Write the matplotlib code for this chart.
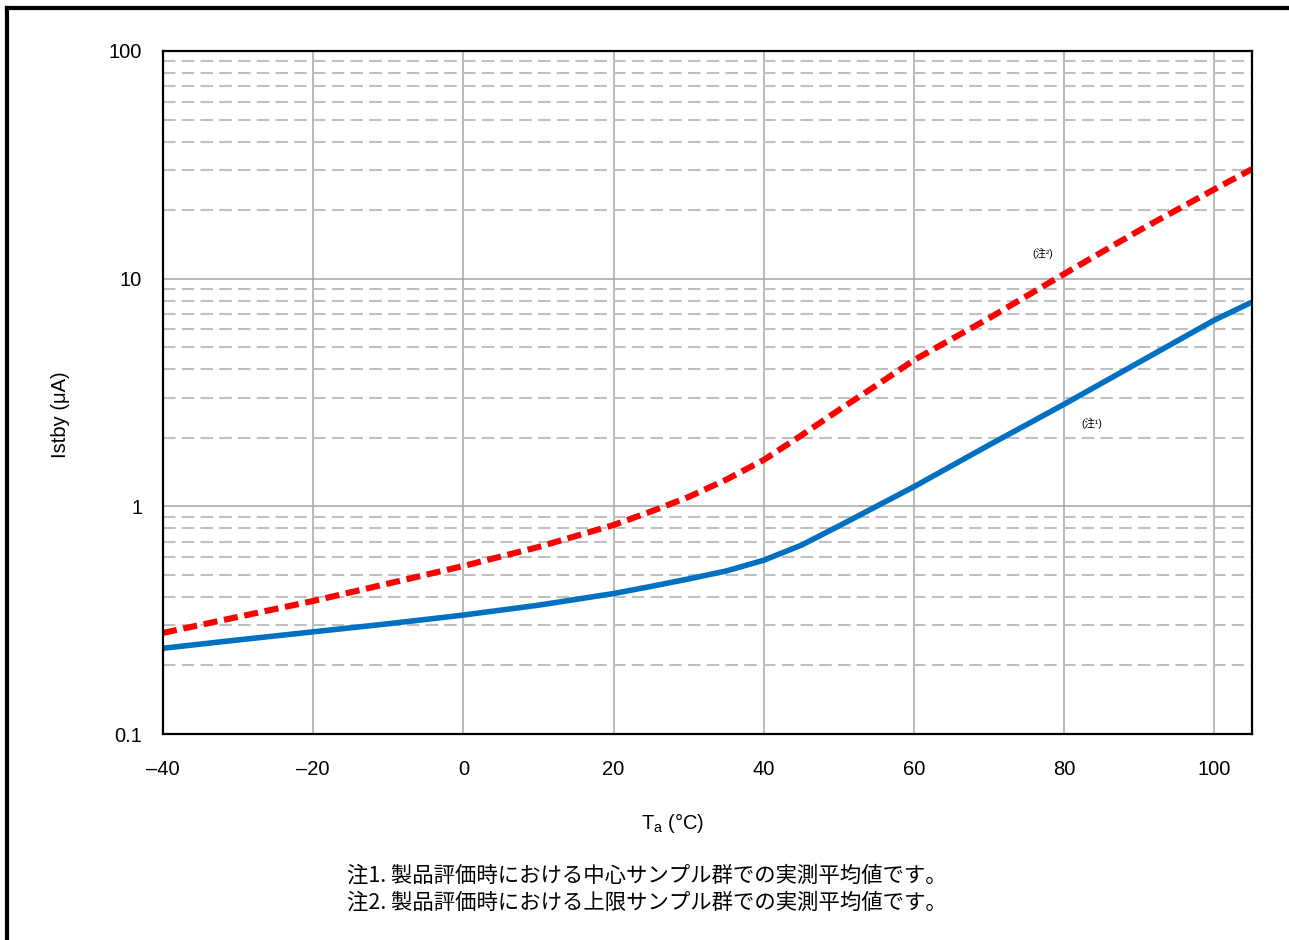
import matplotlib
matplotlib.use("Agg")
import matplotlib.pyplot as plt
from matplotlib.lines import Line2D
from matplotlib.ticker import FixedLocator, NullFormatter

plt.rcParams['font.family'] = ['Liberation Sans', 'Noto Sans CJK JP', 'DejaVu Sans']
plt.rcParams['mathtext.fontset'] = 'custom'
plt.rcParams['mathtext.rm'] = 'Liberation Sans'

# data
temp = [-40, -30, -20, -10, 0, 10, 20, 25, 30, 35, 40, 45, 50, 55, 60, 70, 80, 90, 100, 105]
center = [0.238, 0.259, 0.281, 0.305, 0.333, 0.368, 0.414, 0.445, 0.48, 0.52, 0.58,
          0.675, 0.82, 1.0, 1.22, 1.86, 2.81, 4.30, 6.58, 7.89]
upper = [0.278, 0.327, 0.384, 0.458, 0.547, 0.663, 0.828, 0.95, 1.10, 1.31, 1.60,
         2.05, 2.65, 3.40, 4.39, 6.71, 10.5, 16.3, 24.7, 30.3]

xticks = [-40, -20, 0, 20, 40, 60, 80, 100]
xlabels = ['–40', '–20', '0', '20', '40', '60', '80', '100']
yticks = [0.1, 1, 10, 100]
ylabels = ['0.1', '1', '10', '100']

notes = ['注1. 製品評価時における中心サンプル群での実測平均値です。',
         '注2. 製品評価時における上限サンプル群での実測平均値です。']

W, H = 1289, 940
fig = plt.figure(figsize=(W/100, H/100), dpi=100)
ax = fig.add_axes([163/W, 1 - 734/H, (1252-163)/W, (734-51)/H])

ax.set_yscale('log')
ax.set_xlim(-40, 105)
ax.set_ylim(0.1, 100)

ax.set_xticks(xticks)
ax.set_xticklabels(xlabels)
ax.set_yticks(yticks)
ax.set_yticklabels(ylabels)
minor = [m * d for d in (0.1, 1, 10) for m in range(2, 10)]
ax.yaxis.set_minor_locator(FixedLocator(minor))
ax.yaxis.set_minor_formatter(NullFormatter())

ax.grid(True, which='major', color='#a6a6a6', lw=1.1)
ax.grid(True, which='minor', axis='y', color='#c0c0c0', lw=1.5, linestyle=(0, (6, 3)))
ax.set_axisbelow(True)

ax.tick_params(which='both', length=0, labelsize=14.5)
ax.tick_params(axis='x', pad=19)
ax.tick_params(axis='y', pad=15)
for s in ax.spines.values():
    s.set_color('black')
    s.set_linewidth(1.6)

ax.plot(temp, upper, color='#ff0000', lw=4.4, linestyle=(0, (2.3, 1.1)))
ax.plot(temp, center, color='#0070c0', lw=4.0, solid_capstyle='round')

fig.text(1043/W, 1 - 253/H, '(注²)', fontsize=7.5, ha='center', va='center')
fig.text(1092/W, 1 - 423/H, '(注¹)', fontsize=7.5, ha='center', va='center')

fig.text(60/W, 1 - 415/H, 'Istby (μA)', rotation=90, fontsize=14.5,
         ha='center', va='center')
fig.text(673/W, 1 - 823/H, 'T$_\\mathregular{a}$ (°C)', fontsize=14.5,
         ha='center', va='center')

for i, line in enumerate(notes):
    fig.text(347/W, 1 - (876 + 27*i)/H, line, fontsize=15.4,
             family=['Noto Sans CJK JP', 'DejaVu Sans'], ha='left', va='center')

# frame lines at top and left of the figure
fig.add_artist(Line2D([7/W, 1], [1 - 8/H, 1 - 8/H], color='black', lw=3,
                      transform=fig.transFigure))
fig.add_artist(Line2D([7/W, 7/W], [1 - 8/H, 0], color='black', lw=3,
                      transform=fig.transFigure))

fig.savefig('out.png', dpi=100)
